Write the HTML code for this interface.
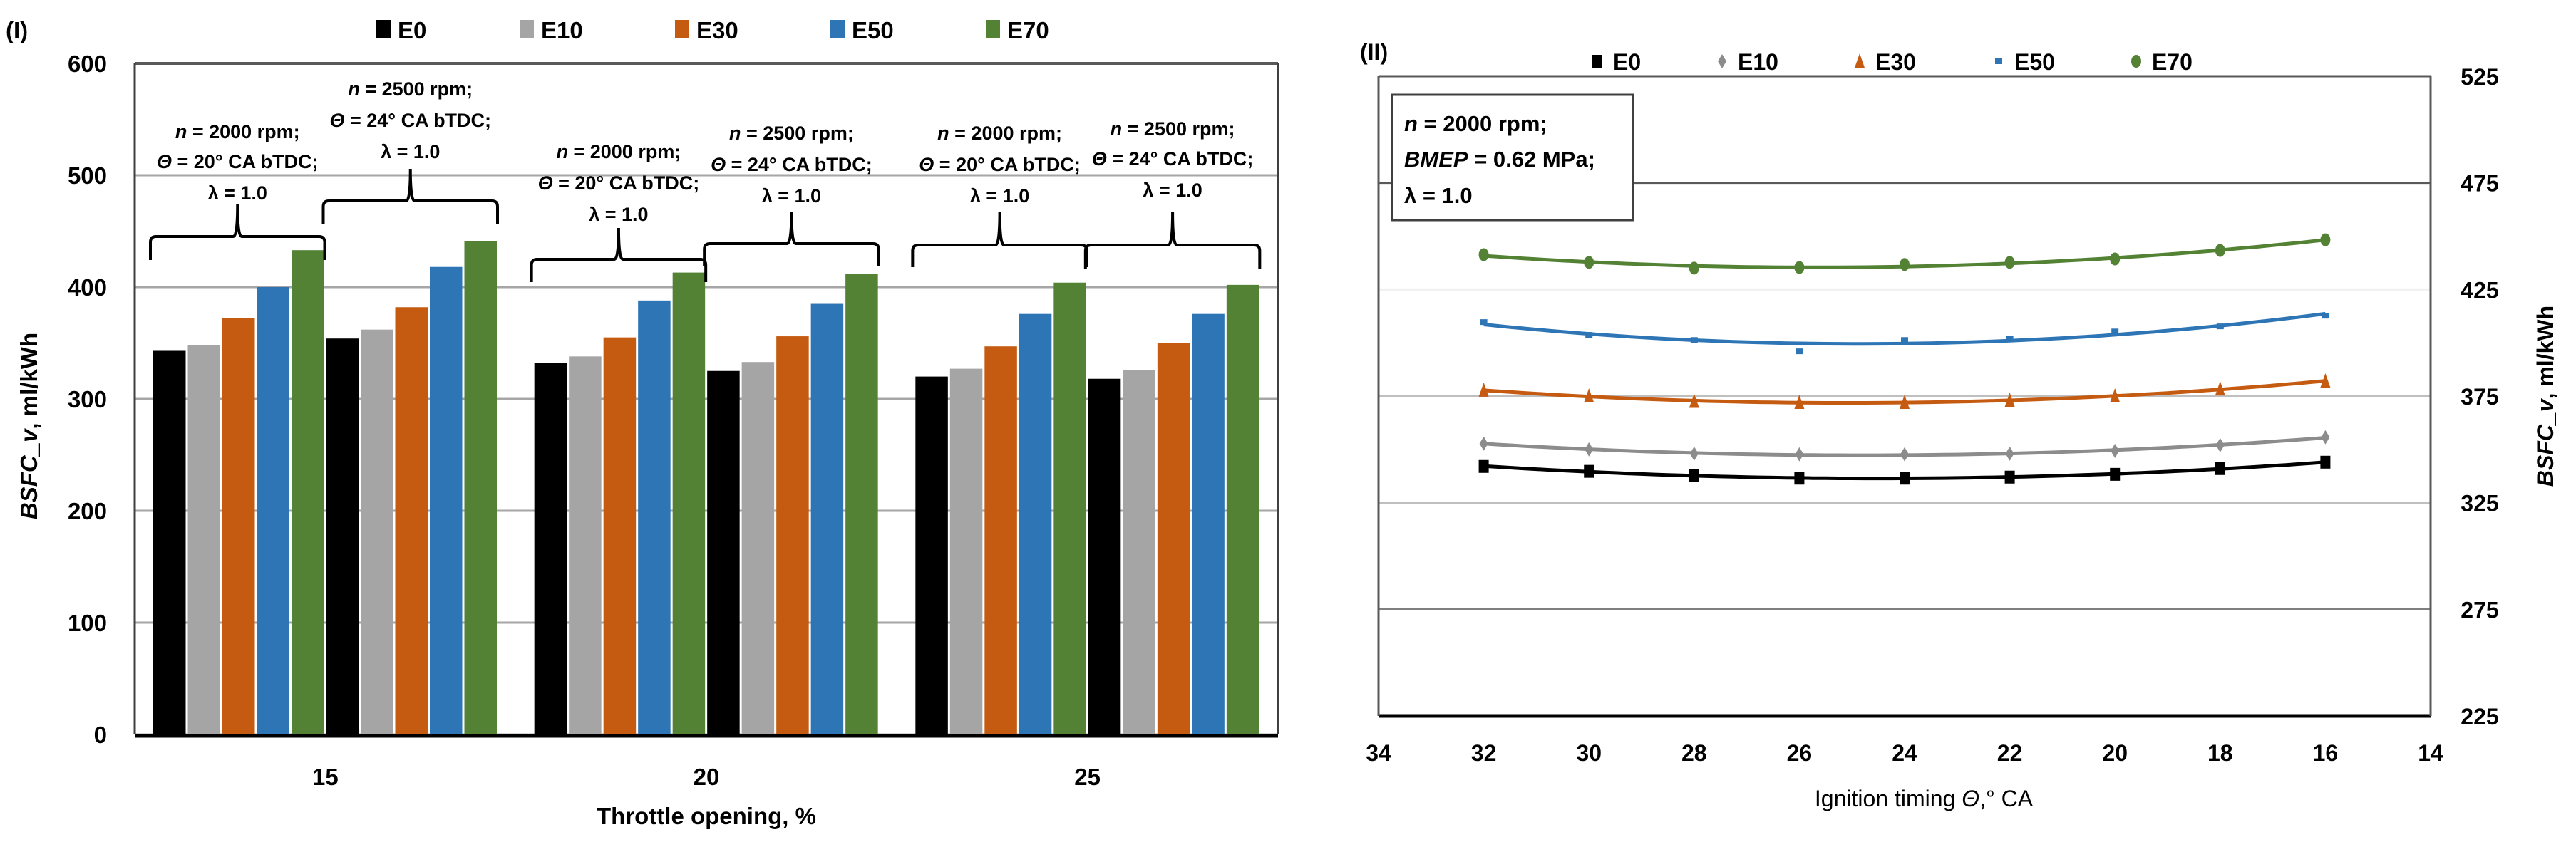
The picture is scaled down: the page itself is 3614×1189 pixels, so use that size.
<!DOCTYPE html>
<html><head><meta charset="utf-8"><style>
html,body{margin:0;padding:0;background:#fff;}
svg{display:block;font-family:"Liberation Sans",sans-serif;}
</style></head><body>
<svg id="svg" width="3614" height="1189" viewBox="0 0 3614 1189" xmlns="http://www.w3.org/2000/svg">
<g id="c1"></g>
<g id="c2"></g>
</svg>
<script>
// ---------- Panel I data ----------
const barCategories = ["15","20","25"];
const barSeriesNames = ["E0","E10","E30","E50","E70"];
const barGroupLabels = ["15-2000","15-2500","20-2000","20-2500","25-2000","25-2500"];
const barE0  = [343, 354, 332, 325, 320, 318];
const barE10 = [348, 362, 338, 333, 327, 326];
const barE30 = [372, 382, 355, 356, 347, 350];
const barE50 = [400, 418, 388, 385, 376, 376];
const barE70 = [433, 441, 413, 412, 404, 402];
const barYTicks = [0,100,200,300,400,500,600];
const annRpm = ["2000","2500","2000","2500","2000","2500"];
const annTheta = ["20","24","20","24","20","24"];

// ---------- Panel II data ----------
const lineX = [32,30,28,26,24,22,20,18,16];
const lineE0  = [342, 339.7, 337.7, 336.5, 336.5, 337, 338.3, 341, 344];
const lineE10 = [352.7, 350, 348, 347.7, 347.7, 348, 349.3, 352, 355.7];
const lineE30 = [377.7, 375, 372.5, 372, 372, 373, 375, 378.3, 382];
const lineE50 = [409.7, 403.7, 401.3, 396, 401.3, 402, 405.3, 407.7, 412.7];
const lineE70 = [441.3, 437.7, 435, 435.3, 436.7, 437.7, 439.3, 443.3, 448.3];
const lineXTicks = [34,32,30,28,26,24,22,20,18,16,14];
const lineYTicks = [225,275,325,375,425,475,525];

const NS="http://www.w3.org/2000/svg";
function mk(parent,tag,attrs,text){const e=document.createElementNS(NS,tag);for(const k in attrs)e.setAttribute(k,attrs[k]);if(text!==undefined)e.textContent=text;parent.appendChild(e);return e;}
const colors=["#000000","#a5a5a5","#c55a11","#2e75b6","#548235"];

// ================= Panel I =================
const c1=document.getElementById('c1');
const L1=189,R1=1793,T1=89,B1=1031;
const y1=v=>B1-(v-0)/(600-0)*(B1-T1);
const catW=(R1-L1)/barCategories.length;
const slot=48.5, bw=45.5, inset=26;
// gridlines
barYTicks.forEach(t=>{
  const gl=mk(c1,'line',{x1:L1,x2:R1,y1:y1(t),y2:y1(t),stroke:t===600?'#595959':'#a6a6a6','stroke-width':t===600?4:3});
  
  
  const tl=mk(c1,'text',{x:150,y:y1(t)+12,'text-anchor':'end','font-size':33,'font-weight':'bold'},String(t));
  
  
});
const series1=[barE0,barE10,barE30,barE50,barE70];
series1.forEach((arr,si)=>{
  arr.forEach((v,gi)=>{
    const cat=Math.floor(gi/2), half=gi%2;
    const x=L1+cat*catW+inset+(half*5+si)*slot;
    const r=mk(c1,'rect',{x:x,y:y1(v),width:bw,height:B1-y1(v),fill:colors[si]});
    
    
  });
});
// frame
mk(c1,'line',{x1:L1,x2:L1,y1:T1,y2:B1,stroke:'#404040','stroke-width':3});
mk(c1,'line',{x1:R1,x2:R1,y1:T1,y2:B1,stroke:'#404040','stroke-width':3});
mk(c1,'line',{x1:L1,x2:R1,y1:B1+2,y2:B1+2,stroke:'#000','stroke-width':5});
// annotations
const annTop=[[184,226,270,332,365,287],[124,168,212,282,314,237],[212,256,300,364,396,320],[186,230,274,342,373,297],[186,230,274,344,375,297],[180,222,266,344,377,298]];
annTop.forEach((a,gi)=>{
  const cat=Math.floor(gi/2), half=gi%2;
  const gx0=L1+cat*catW+inset+half*5*slot-4, gx1=gx0+5*slot+2;
  const cx=(gx0+gx1)/2;
  const g=mk(c1,'g',{});
  
  
  const t1=mk(g,'text',{x:cx,y:a[0]+10,'text-anchor':'middle','font-size':27,'font-weight':'bold'});
  mk(t1,'tspan',{'font-style':'italic'},'n');mk(t1,'tspan',{},' = '+annRpm[gi]+' rpm;');
  const t2=mk(g,'text',{x:cx,y:a[1]+10,'text-anchor':'middle','font-size':27,'font-weight':'bold'});
  mk(t2,'tspan',{'font-style':'italic'},'Θ');mk(t2,'tspan',{},' = '+annTheta[gi]+'° CA bTDC;');
  mk(g,'text',{x:cx,y:a[2]+10,'text-anchor':'middle','font-size':27,'font-weight':'bold'},'λ = 1.0');
  const yt=a[3],yb=a[4],ys=a[5];
  const br=mk(g,'path',{d:`M${gx0},${yb} L${gx0},${yt+8} Q${gx0},${yt} ${gx0+8},${yt} L${cx-6},${yt} Q${cx},${yt} ${cx},${ys} Q${cx},${yt} ${cx+6},${yt} L${gx1-8},${yt} Q${gx1},${yt} ${gx1},${yt+8} L${gx1},${yb}`,fill:'none',stroke:'#000','stroke-width':4});
  
  
});
// x labels
barCategories.forEach((c,i)=>{
  const t=mk(c1,'text',{x:L1+(i+0.5)*catW,y:1102,'text-anchor':'middle','font-size':33,'font-weight':'bold'},c);
  
  
});
const xt1=mk(c1,'text',{x:991,y:1157,'text-anchor':'middle','font-size':33,'font-weight':'bold'},'Throttle opening, %');

const yt1=mk(c1,'text',{x:0,y:0,transform:'translate(52,598) rotate(-90)','text-anchor':'middle','font-size':33,'font-weight':'bold'});
mk(yt1,'tspan',{'font-style':'italic'},'BSFC_v');mk(yt1,'tspan',{},', ml/kWh');

const p1=mk(c1,'text',{x:8,y:54,'font-size':33,'font-weight':'bold'},'(I)');

// legend
const legX1=[528,729,947,1165,1383];
barSeriesNames.forEach((n,i)=>{
  const g=mk(c1,'g',{});
  
  
  mk(g,'rect',{x:legX1[i],y:28,width:20,height:26,fill:colors[i]});
  mk(g,'text',{x:legX1[i]+30,y:54,'font-size':33,'font-weight':'bold'},n);
});

// ================= Panel II =================
const c2=document.getElementById('c2');
const L2=1934,R2=3410,T2=107,B2=1005;
const x2=v=>L2+(34-v)/(34-14)*(R2-L2);
const y2=v=>B2-(v-225)/(525-225)*(B2-T2);
const gridCol={225:'#000',275:'#7f7f7f',325:'#bfbfbf',375:'#bfbfbf',425:'#f0f0f0',475:'#595959',525:'#595959'};
lineYTicks.forEach(t=>{
  const gl=mk(c2,'line',{x1:L2,x2:R2,y1:y2(t),y2:y2(t),stroke:gridCol[t],'stroke-width':t===225?5:3});
  
  
  const tl=mk(c2,'text',{x:3479,y:y2(t)+12,'text-anchor':'middle','font-size':32,'font-weight':'bold'},String(t));
  
  
});
mk(c2,'line',{x1:L2,x2:L2,y1:T2,y2:B2,stroke:'#595959','stroke-width':3});
mk(c2,'line',{x1:R2,x2:R2,y1:T2,y2:B2,stroke:'#595959','stroke-width':3});
lineXTicks.forEach(t=>{
  const tl=mk(c2,'text',{x:x2(t),y:1068,'text-anchor':'middle','font-size':32,'font-weight':'bold'},String(t));
  
  
});
function quadFit(xs,ys){
  let n=xs.length,S=[0,0,0,0,0],T=[0,0,0];
  for(let i=0;i<n;i++){let p=1;for(let k=0;k<5;k++){S[k]+=p;if(k<3)T[k]+=p*ys[i];p*=xs[i];}}
  const A=[[S[0],S[1],S[2],T[0]],[S[1],S[2],S[3],T[1]],[S[2],S[3],S[4],T[2]]];
  for(let i=0;i<3;i++){for(let j=i+1;j<3;j++){const f=A[j][i]/A[i][i];for(let k=i;k<4;k++)A[j][k]-=f*A[i][k];}}
  const c=[0,0,0];for(let i=2;i>=0;i--){let s=A[i][3];for(let k=i+1;k<3;k++)s-=A[i][k]*c[k];c[i]=s/A[i][i];}
  return x=>c[0]+c[1]*x+c[2]*x*x;
}
function marker(g,kind,cx,cy,col){
  if(kind===0) return mk(g,'rect',{x:cx-7,y:cy-9,width:14,height:18,fill:col});
  if(kind===1) return mk(g,'path',{d:`M${cx},${cy-10} L${cx+6},${cy} L${cx},${cy+10} L${cx-6},${cy}Z`,fill:col});
  if(kind===2) return mk(g,'path',{d:`M${cx},${cy-11} L${cx+7},${cy+9} L${cx-7},${cy+9}Z`,fill:col});
  if(kind===3) return mk(g,'rect',{x:cx-5,y:cy-4,width:10,height:8,fill:col});
  return mk(g,'ellipse',{cx:cx,cy:cy,rx:7,ry:9,fill:col});
}
const series2=[lineE0,lineE10,lineE30,lineE50,lineE70];
const lcol=["#000000","#8c8c8c","#c55a11","#2e75b6","#548235"];
series2.forEach((arr,si)=>{
  const g=mk(c2,'g',{});
  
  
  const f=quadFit(lineX,arr);
  let d='';
  for(let k=0;k<=64;k++){const xv=32-16*k/64;d+=(k?'L':'M')+x2(xv).toFixed(1)+','+y2(f(xv)).toFixed(1);}
  const tr=mk(g,'path',{d:d,fill:'none',stroke:lcol[si],'stroke-width':5});
  
  
  arr.forEach((v,i)=>{
    const m=marker(g,si,x2(lineX[i]),y2(v),lcol[si]);
    
    
  });
});
// annotation box
const ab=mk(c2,'g',{});

mk(ab,'rect',{x:1953,y:133,width:338,height:176,fill:'#fff',stroke:'#404040','stroke-width':3});
const b1=mk(ab,'text',{x:1970,y:184,'font-size':31,'font-weight':'bold'});mk(b1,'tspan',{'font-style':'italic'},'n');mk(b1,'tspan',{},' = 2000 rpm;');
const b2=mk(ab,'text',{x:1970,y:234,'font-size':31,'font-weight':'bold'});mk(b2,'tspan',{'font-style':'italic'},'BMEP');mk(b2,'tspan',{},' = 0.62 MPa;');
mk(ab,'text',{x:1970,y:285,'font-size':31,'font-weight':'bold'},'λ = 1.0');
const xt2=mk(c2,'text',{x:2699,y:1132,'text-anchor':'middle','font-size':32},'Ignition timing ');
mk(xt2,'tspan',{'font-style':'italic'},'Θ');mk(xt2,'tspan',{},',° CA');

const yt2=mk(c2,'text',{x:0,y:0,transform:'translate(3582,556) rotate(-90)','text-anchor':'middle','font-size':32,'font-weight':'bold'});
mk(yt2,'tspan',{'font-style':'italic'},'BSFC_v');mk(yt2,'tspan',{},', ml/kWh');

const p2=mk(c2,'text',{x:1908,y:84,'font-size':32,'font-weight':'bold'},'(II)');

const legX2=[2241,2416,2609,2804,2997];
barSeriesNames.forEach((n,i)=>{
  const g=mk(c2,'g',{});
  
  
  marker(g,i,legX2[i],86,lcol[i]);
  mk(g,'text',{x:legX2[i]+22,y:98,'font-size':32,'font-weight':'bold'},n);
});
</script>
</body></html>
